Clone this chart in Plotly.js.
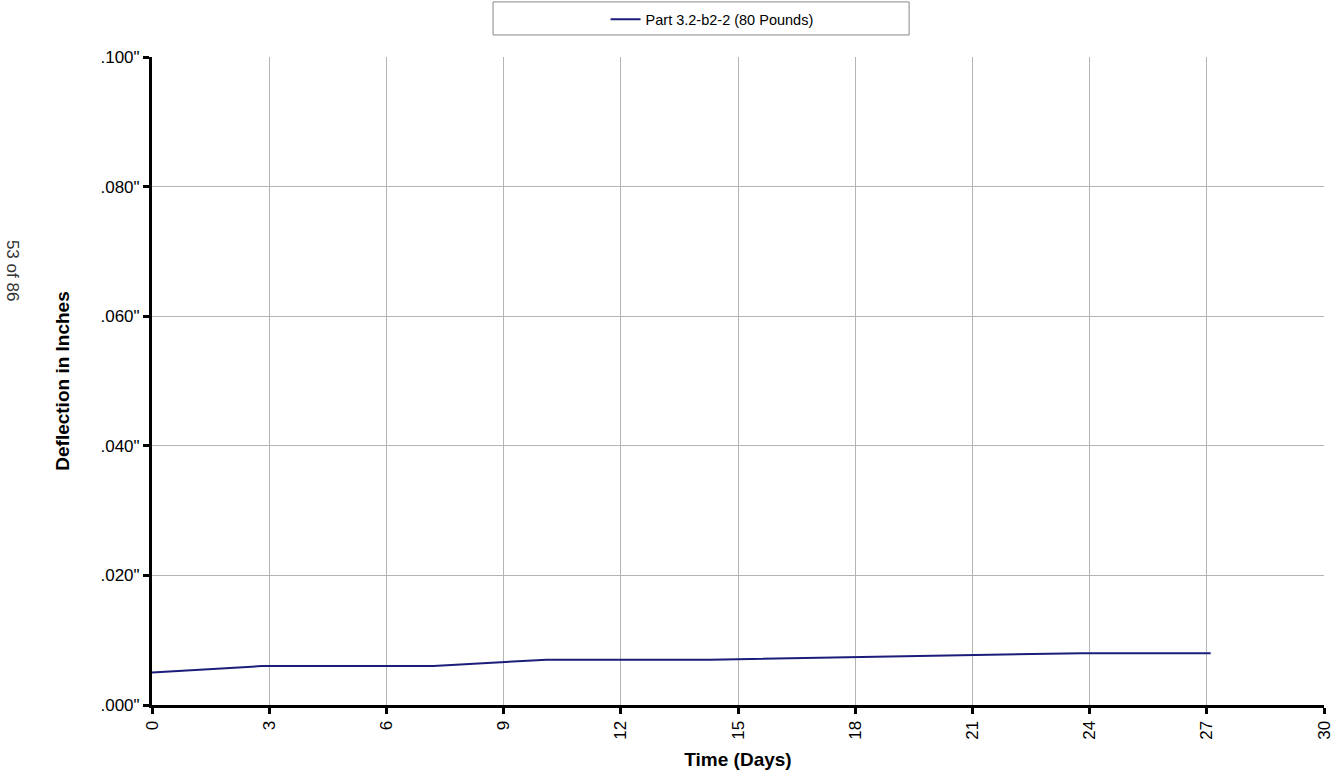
<!DOCTYPE html>
<html><head><meta charset="utf-8">
<script src="https://cdn.plot.ly/plotly-3.0.1.min.js"></script>
<style>html,body{margin:0;padding:0;background:#fff}#chart{width:1332px;height:778px}</style>
</head><body><div id="chart"></div>
<script>
var seriesName = 'Part 3.2-b2-2 (80 Pounds)';
var days = [0, 2.8, 7.2, 10.1, 14.3, 17.9, 21, 23.8, 27.1];
var deflection = [0.005, 0.006, 0.006, 0.007, 0.007, 0.0074, 0.0077, 0.008, 0.008];
var xTicks = [0, 3, 6, 9, 12, 15, 18, 21, 24, 27, 30];
var yTicks = [0, 0.02, 0.04, 0.06, 0.08, 0.1];
var yTickText = ['.000"', '.020"', '.040"', '.060"', '.080"', '.100"'];

var font = 'Liberation Sans, Arial, sans-serif';
var trace = {
  x: days, y: deflection, type: 'scatter', mode: 'lines', name: seriesName,
  line: {color: '#1c1c7a', width: 2}
};
var layout = {
  width: 1332, height: 778,
  margin: {l: 152, r: 8, t: 57, b: 73, autoexpand: false},
  paper_bgcolor: '#fff', plot_bgcolor: '#fff',
  font: {family: font, color: '#000', size: 15},
  showlegend: true,
  legend: {x: 0.387, xanchor: 'left', xref: 'paper', y: 1.083, yanchor: 'top', yref: 'paper', orientation: 'h',
    borderwidth: 0, bgcolor: 'rgba(0,0,0,0)',
    font: {family: font, size: 14.5}},
  shapes: [{type: 'rect', xref: 'paper', yref: 'paper', x0: 0.291, x1: 0.646, y0: 1.034, y1: 1.085,
    line: {color: '#888', width: 1}, fillcolor: 'rgba(0,0,0,0)', layer: 'below'}],
  xaxis: {range: [0, 30], tickvals: xTicks, ticktext: xTicks.map(String), tickangle: -90,
    ticklabeloverflow: 'allow',
    showgrid: true, gridcolor: '#b4b4b4', gridwidth: 1, zeroline: false,
    showline: true, linecolor: '#000', linewidth: 3, ticks: 'outside', ticklen: 6, tickwidth: 3, tickcolor: '#000',
    tickfont: {size: 17}, title: {text: '<b>Time (Days)</b>', font: {size: 19}, standoff: 14}},
  yaxis: {range: [0, 0.1], tickvals: yTicks, ticktext: yTickText,
    ticklabeloverflow: 'allow',
    showgrid: true, gridcolor: '#b4b4b4', gridwidth: 1, zeroline: false,
    showline: true, linecolor: '#000', linewidth: 3, ticks: 'outside', ticklen: 6, tickwidth: 3, tickcolor: '#000',
    tickfont: {size: 17}, title: {text: '<b>Deflection in Inches</b>', font: {size: 19}, standoff: 26}},
  annotations: [{text: '53 of 86', xref: 'paper', yref: 'paper', x: -0.1195, y: 0.67,
    showarrow: false, textangle: 90, font: {size: 17, color: '#333'}, xanchor: 'center', yanchor: 'middle'}]
};
Plotly.newPlot('chart', [trace], layout, {displayModeBar: false});
</script></body></html>
